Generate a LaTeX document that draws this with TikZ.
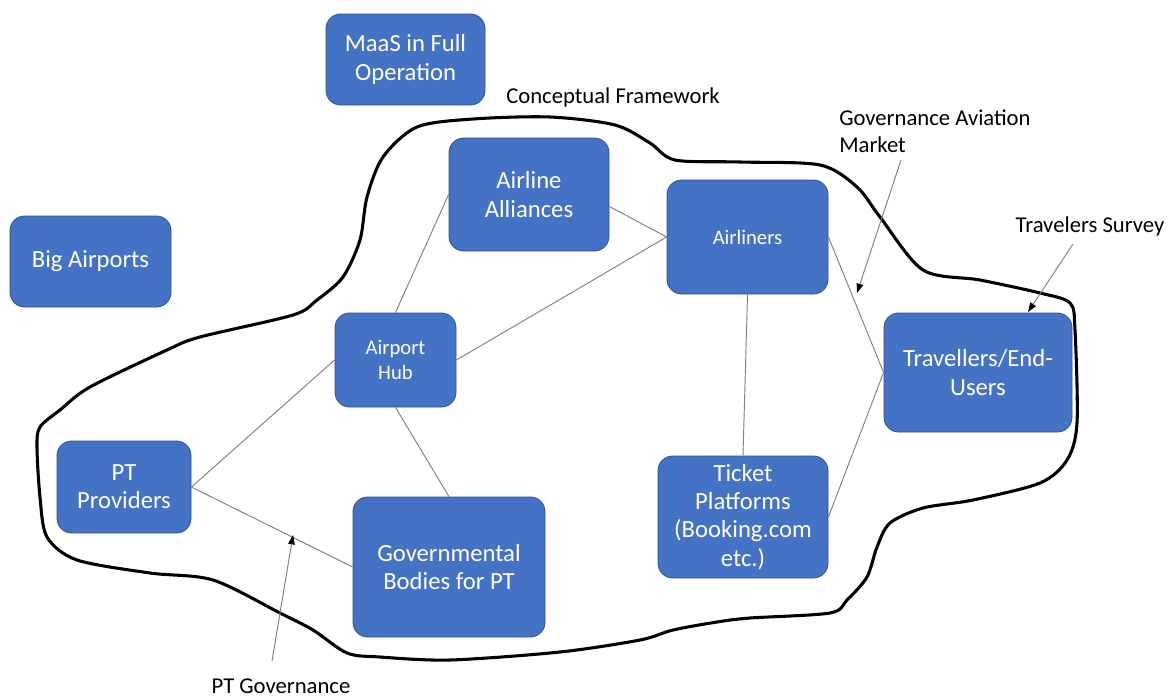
\documentclass[tikz,border=0pt]{standalone}
\usepackage{fontspec}
\setmainfont{Carlito}
\usetikzlibrary{arrows.meta}
\definecolor{boxfill}{HTML}{4472C4}
\definecolor{boxline}{HTML}{2F528F}
\definecolor{linkgray}{HTML}{7F7F7F}
\tikzset{
  box/.style={fill=boxfill, draw=boxline, line width=0.6pt, rounded corners=11pt,
    inner sep=0pt, text=white, align=center, font=\fontsize{18.5}{21.2}\selectfont},
  smallbox/.style={box, font=\fontsize{15.5}{19}\selectfont},
  size/.style n args={2}{minimum width=#1, minimum height=#2},
  link/.style={draw=linkgray, line width=0.7pt},
  pointer/.style={draw=linkgray, line width=0.7pt,
    -{Triangle[length=7pt,width=5pt,fill=black,color=black]}},
  caption/.style={font=\fontsize{17}{20}\selectfont, text=black, inner sep=0pt},
  outline/.style={draw=black, line width=2.3pt, line join=round}
}
\begin{document}
\begin{tikzpicture}[x=0.75pt,y=-0.75pt]
\useasboundingbox (0,0) rectangle (1175,697);

% framework outline
\draw[outline] plot[smooth cycle, tension=0.5] coordinates {
  (473,119) (550,117) (615,125) (650,143) (675,160) (740,162) (820,165)
  (857,187) (880,217) (923,270) (980,280) (1040,293) (1070,303) (1075,330)
  (1077,423) (1067,460) (1040,483) (973,500) (923,508) (890,523) (877,547)
  (867,577) (847,600) (830,613) (750,618) (717,622) (673,630) (640,640)
  (560,652) (450,660) (380,657) (347,653) (313,630) (280,613) (213,580)
  (150,573) (77,560) (47,537) (40,497) (37,447) (40,427) (60,410) (90,387)
  (167,350) (200,337) (293,315) (317,300) (343,277) (360,240) (367,197)
  (383,157) (417,127)};

% boxes
\node[box, size={119.25pt}{68.25pt}] (maas) at (405.5,59.5) {MaaS in Full\\Operation};
\node[box, size={120.75pt}{68.25pt}] (big) at (90.5,261.5) {Big Airports};
\node[box, size={120pt}{84.75pt}] (alli) at (529,194.5) {Airline\\Alliances};
\node[smallbox, size={120.75pt}{85.5pt}] (airl) at (747.5,237) {Airliners};
\node[smallbox, size={90.75pt}{70.5pt}] (hub) at (395.5,360) {Airport\\Hub};
\node[box, size={100.5pt}{69pt}] (ptp) at (124,487) {PT\\Providers};
\node[box, size={144pt}{105pt}] (gov) at (449,567) {Governmental\\Bodies for PT};
\node[box, size={127.5pt}{91.5pt}] (tick) at (743,517) {Ticket\\Platforms\\(Booking.com\\etc.)};
\node[box, size={141pt}{89.25pt}] (trav) at (978,372.5) {Travellers/End-\\Users};

% relations
\draw[link] ([yshift=-9pt]alli.east) -- (airl.west);
\draw[link] (hub.north) -- (alli.west);
\draw[link] (hub.east) -- (airl.west);
\draw[link] (hub.west) -- (ptp.east);
\draw[link] (hub.south) -- (gov.north);
\draw[link] (ptp.east) -- (gov.west);
\draw[link] (airl.south) -- (tick.north);
\draw[link] (airl.east) -- (trav.west);
\draw[link] (tick.east) -- (trav.west);

% captions
\node[caption] (cf) at (613,97) {Conceptual Framework};
\node[caption, align=left, anchor=west] (gam) at (839,131) {Governance Aviation\\Market};
\node[caption] (ts) at (1090,226) {Travelers Survey};
\node[caption] (ptg) at (281,686) {PT Governance};

% pointers
\coordinate (ptgA) at (272,661);
\coordinate (ptgB) at (293,535);
\coordinate (gamA) at (901,160);
\coordinate (gamB) at (857,293);
\coordinate (tsA) at (1073,244);
\coordinate (tsB) at (1028,312);
\draw[pointer] (ptgA) -- (ptgB);
\draw[pointer] (gamA) -- (gamB);
\draw[pointer] (tsA) -- (tsB);
\end{tikzpicture}
\end{document}
